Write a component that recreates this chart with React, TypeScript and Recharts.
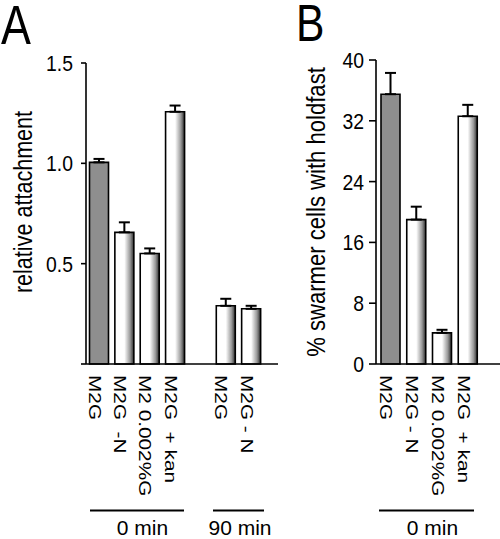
import React from "react";
import { BarChart, Bar, XAxis, YAxis, ErrorBar, Cell } from "recharts";

// Panel A data
const catsA = ["M2G", "M2G  -N", "M2 0.002%G", "M2G  + kan", "", "M2G", "M2G - N"];
const valuesA: (number | null)[] = [1.005, 0.656, 0.551, 1.257, null, 0.29, 0.275];
const errUpA: (number | null)[] = [0.017, 0.05, 0.025, 0.031, null, 0.035, 0.015];
const ticksA = [0, 0.5, 1.0, 1.5];

// Panel B data
const catsB = ["M2G", "M2G - N", "M2 0.002%G", "M2G  + kan"];
const valuesB = [35.5, 19.0, 4.1, 32.6];
const errUpB = [2.8, 1.7, 0.4, 1.5];
const ticksB = [0, 8, 16, 24, 32, 40];

const FONT = "'Liberation Sans', Arial, Helvetica, sans-serif";

const dataA = catsA.map((c, i) => ({
  id: "a" + i,
  label: c,
  value: valuesA[i],
  err: errUpA[i] == null ? null : [0, errUpA[i]],
}));
const dataB = catsB.map((c, i) => ({
  id: "b" + i,
  label: c,
  value: valuesB[i],
  err: [0, errUpB[i]],
}));

const makeXTick = (labels: string[]) => (props: any) => {
  const { x, y, payload } = props;
  const label = labels[payload.index] ?? "";
  return (
    <text
      transform={`translate(${x - 10.5},${y + 11}) rotate(90) scale(1.3,1)`}
      textAnchor="start"
      fontFamily={FONT}
      fontSize={16}
      fill="#000"
      style={{ whiteSpace: "pre" }}
    >
      {label}
    </text>
  );
};

const makeYTick = (fmt: (v: number) => string) => (props: any) => {
  const { x, y, payload } = props;
  return (
    <text
      transform={`translate(${x},${y}) scale(0.88,1)`}
      textAnchor="end"
      dy="0.36em"
      fontFamily={FONT}
      fontSize={22}
      fill="#000"
    >
      {fmt(payload.value)}
    </text>
  );
};

const GradDefs = ({ id }: { id: string }) => (
  <defs>
    <linearGradient id={id} x1="0" y1="0" x2="1" y2="0">
      <stop offset="0" stopColor="#ffffff" />
      <stop offset="0.5" stopColor="#ffffff" />
      <stop offset="0.8" stopColor="#9a9a9a" />
      <stop offset="1" stopColor="#2e2e2e" />
    </linearGradient>
  </defs>
);

export default function App() {
  return (
    <div style={{ position: "absolute", left: 0, top: 0, width: 500, height: 539, background: "#fff" }}>
      <div style={{ position: "absolute", left: 0, top: 0 }}>
        <BarChart width={290} height={539} data={dataA} margin={{ top: 63, right: 12, bottom: 0, left: 0 }}>
          <GradDefs id="gradA" />
          <XAxis
            dataKey="id"
            height={175}
            interval={0}
            tickLine={false}
            tickSize={0}
            tickMargin={0}
            axisLine={{ stroke: "#000", strokeWidth: 1.6 }}
            padding={{ left: 0.5, right: 14 }}
            tick={makeXTick(catsA)}
          />
          <YAxis
            width={86}
            domain={[0, 1.5]}
            ticks={ticksA}
            interval={0}
            tickSize={5}
            tickMargin={8}
            axisLine={{ stroke: "#000", strokeWidth: 1.6 }}
            tickLine={{ stroke: "#000", strokeWidth: 1.6 }}
            tick={makeYTick((v) => (v === 0 ? "" : v.toFixed(1)))}
          />
          <Bar dataKey="value" barSize={19} stroke="#000" strokeWidth={1.6} isAnimationActive={false}>
            {dataA.map((d, i) => (
              <Cell key={d.id} fill={i === 0 ? "#8e8e8e" : "url(#gradA)"} />
            ))}
            <ErrorBar dataKey="err" width={5.5} stroke="#000" strokeWidth={2} direction="y" isAnimationActive={false} />
          </Bar>
        </BarChart>
      </div>
      <div style={{ position: "absolute", left: 250, top: 0 }}>
        <BarChart width={250} height={539} data={dataB} margin={{ top: 60, right: 0, bottom: 0, left: 0 }}>
          <GradDefs id="gradB" />
          <XAxis
            dataKey="id"
            height={175}
            interval={0}
            tickLine={false}
            tickSize={0}
            tickMargin={0}
            axisLine={{ stroke: "#000", strokeWidth: 1.6 }}
            padding={{ left: 2, right: 19 }}
            tick={makeXTick(catsB)}
          />
          <YAxis
            width={126}
            domain={[0, 40]}
            ticks={ticksB}
            interval={0}
            tickSize={7}
            tickMargin={5}
            axisLine={{ stroke: "#000", strokeWidth: 1.6 }}
            tickLine={{ stroke: "#000", strokeWidth: 1.6 }}
            tick={makeYTick((v) => String(v))}
          />
          <Bar dataKey="value" barSize={19} stroke="#000" strokeWidth={1.6} isAnimationActive={false}>
            {dataB.map((d, i) => (
              <Cell key={d.id} fill={i === 0 ? "#8e8e8e" : "url(#gradB)"} />
            ))}
            <ErrorBar dataKey="err" width={5.5} stroke="#000" strokeWidth={2} direction="y" isAnimationActive={false} />
          </Bar>
        </BarChart>
      </div>
      <svg
        width={500}
        height={539}
        style={{ position: "absolute", left: 0, top: 0, pointerEvents: "none" }}
        fontFamily={FONT}
      >
        <text transform="translate(1,44) scale(0.8,1)" fontSize={56} fill="#000">A</text>
        <text transform="translate(296,41) scale(0.82,1)" fontSize={52} fill="#000">B</text>
        <text transform="translate(32,202) rotate(-90) scale(0.83,1)" textAnchor="middle" fontSize={26} fill="#000">
          relative attachment
        </text>
        <text transform="translate(325,212) rotate(-90) scale(0.85,1)" textAnchor="middle" fontSize={26} fill="#000">
          % swarmer cells with holdfast
        </text>
        <line x1={90} x2={184} y1={510.5} y2={510.5} stroke="#000" strokeWidth={2} />
        <line x1={213} x2={264} y1={510.5} y2={510.5} stroke="#000" strokeWidth={2} />
        <line x1={379} x2={474} y1={510.5} y2={510.5} stroke="#000" strokeWidth={2} />
        <text x={142.5} y={535} textAnchor="middle" fontSize={21} fill="#000">0 min</text>
        <text x={240} y={535} textAnchor="middle" fontSize={21} fill="#000">90 min</text>
        <text x={432.5} y={535} textAnchor="middle" fontSize={21} fill="#000">0 min</text>
      </svg>
    </div>
  );
}
